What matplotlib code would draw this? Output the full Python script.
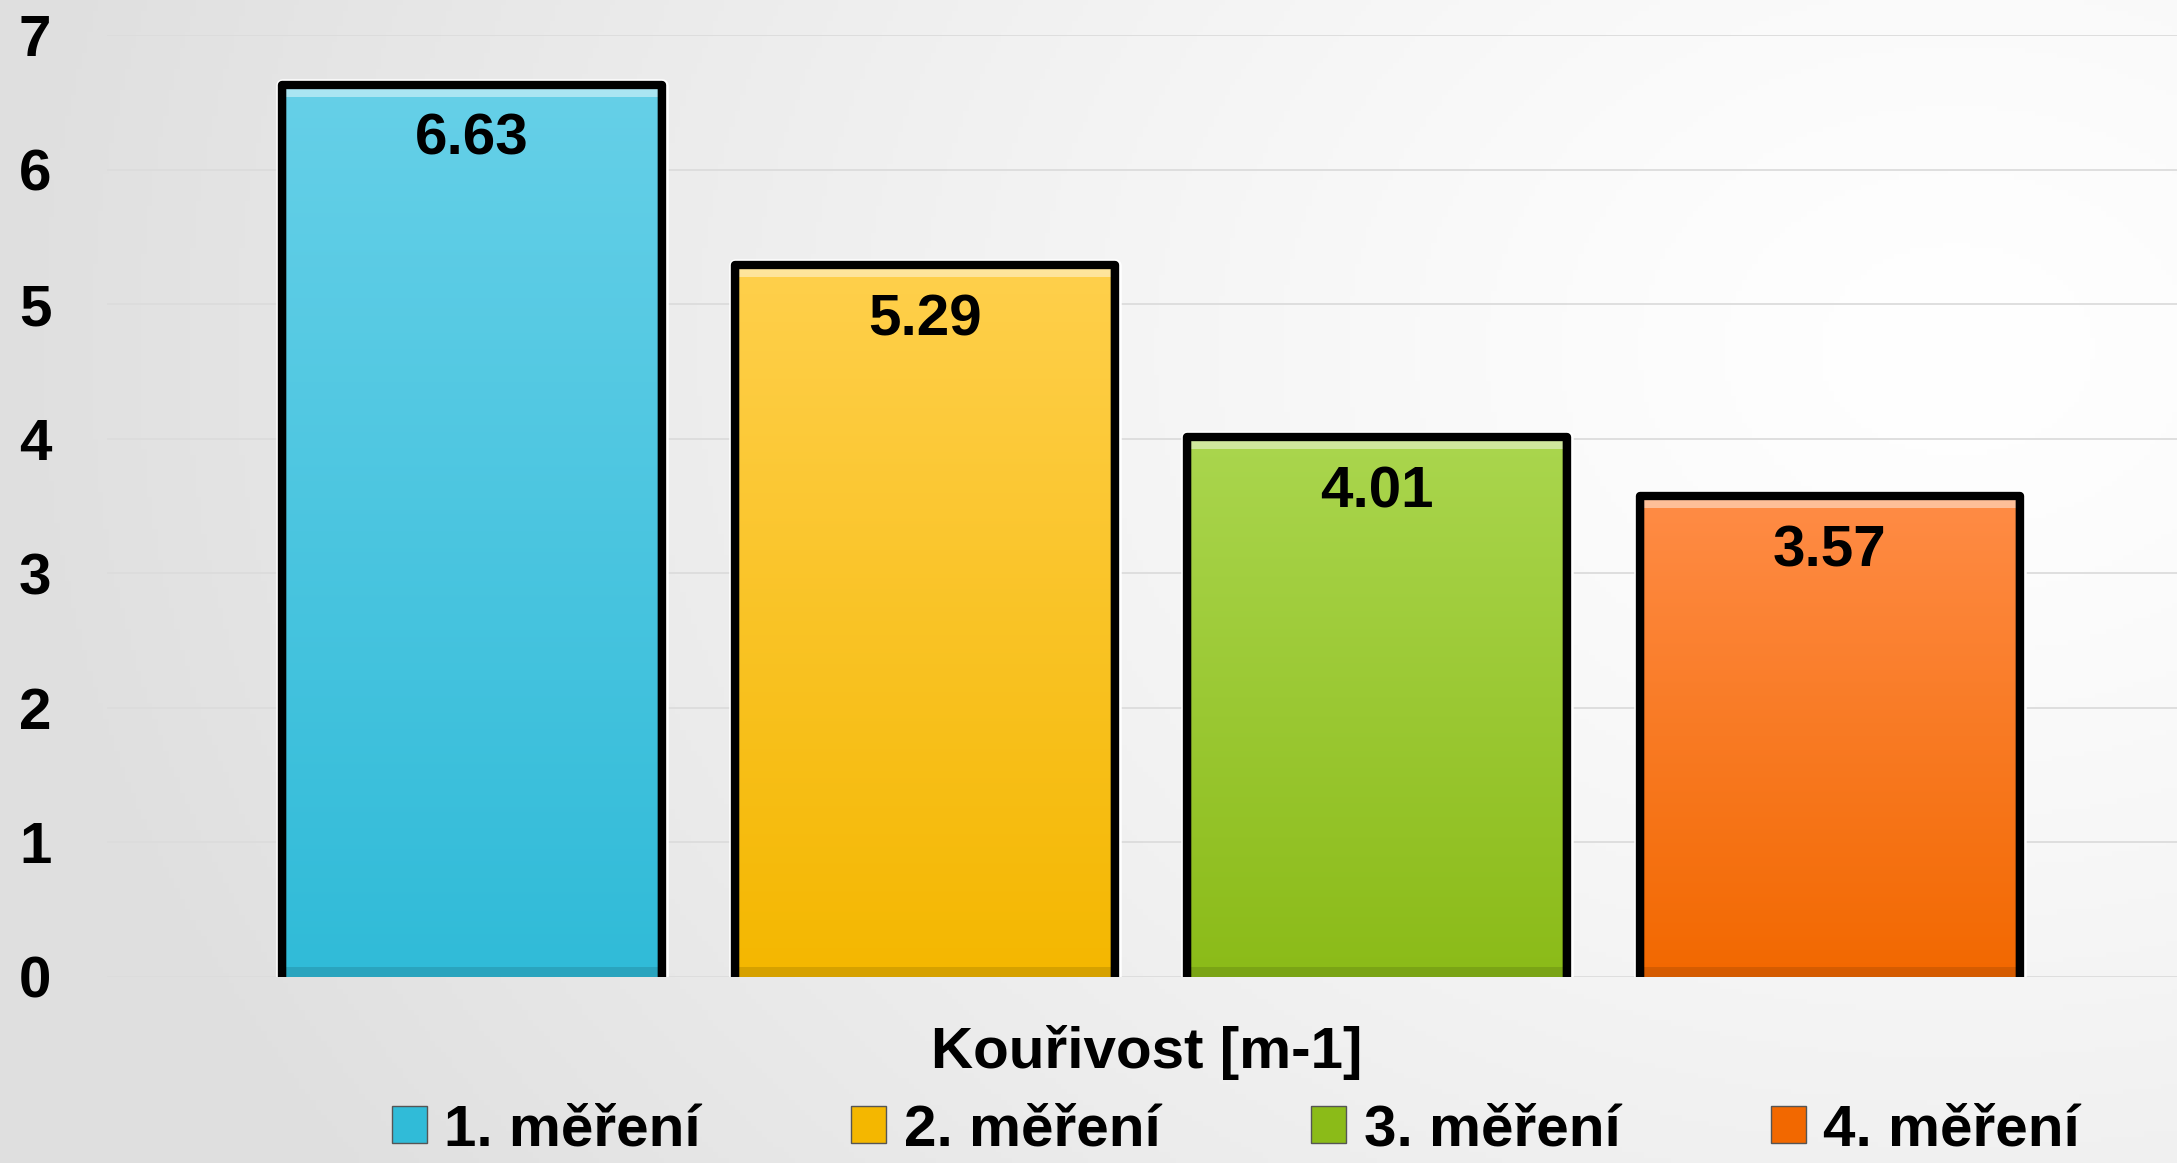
import numpy as np
import matplotlib
matplotlib.use('Agg')
import matplotlib.pyplot as plt
from matplotlib.patches import Patch

# data
labels = ['1. měření', '2. měření', '3. měření', '4. měření']
values = [6.63, 5.29, 4.01, 3.57]
value_text = ['6.63', '5.29', '4.01', '3.57']
top_colors = ['#66d0e8', '#ffd04c', '#aad64e', '#ff8c46']
bottom_colors = ['#30bbd8', '#f4b700', '#8bbb18', '#f26800']
x_title = 'Kouřivost [m-1]'
yticks = [0, 1, 2, 3, 4, 5, 6, 7]

plt.rcParams['font.family'] = ['Liberation Sans', 'DejaVu Sans']
plt.rcParams['font.weight'] = 'bold'
FS = 42

W, H = 2177, 1163
fig = plt.figure(figsize=(W / 100, H / 100), dpi=100)

#%% background gradient
bg = fig.add_axes([0, 0, 1, 1], zorder=-10)
gx, gy = np.meshgrid(np.linspace(0, W, 400), np.linspace(0, H, 220))
d = np.hypot(gx - 0.9 * W, (gy - 0.3 * H) * 1.3) / (0.9 * W)
shade = 1 - 0.125 * np.clip(d, 0, 1) ** 1.3
bg.imshow(np.dstack([shade] * 3), extent=(0, 1, 0, 1), aspect='auto', origin='upper')
bg.axis('off')

#%% main axes
ax = fig.add_axes([107 / W, (H - 976.7) / H, 1 - 107 / W, 941.7 / H])
ax.patch.set_alpha(0)
ax.set_xlim(-0.807, 3.767)
ax.set_ylim(0, 7)
for s in ax.spines.values():
    s.set_visible(False)
ax.set_yticks(yticks)
ax.set_yticklabels([str(t) for t in yticks], fontsize=FS, fontweight='bold')
ax.tick_params(axis='y', length=0, pad=40)
ax.set_xticks([])
ax.yaxis.grid(True, color='#dcdcdc', linewidth=1.3)
ax.set_axisbelow(True)


def hex2rgb(c):
    c = c.lstrip('#')
    return np.array([int(c[i:i + 2], 16) for i in (0, 2, 4)]) / 255.0


bw = 0.84
px_per_unit = 941.7 / 7
for i, (v, ct, cb) in enumerate(zip(values, top_colors, bottom_colors)):
    hpx = int(v * px_per_unit)
    wpx = 380
    t = np.linspace(0, 1, hpx)[:, None, None]
    img = (1 - t) * hex2rgb(ct) + t * hex2rgb(cb)
    img = np.repeat(img, wpx, axis=1)
    # bevel: light top, darker sides and bottom
    img[:12] = img[:12] * 0.55 + 0.45
    img[:3] = img[:3] * 0.6 + 0.4 * np.array([0.8, 1, 1])
    img[-10:] *= 0.88
    img[:, :5] *= 0.85
    img[:, -6:] *= 0.8
    img = np.clip(img, 0, 1)
    x0, x1 = i - bw / 2, i + bw / 2
    ax.imshow(img, extent=(x0, x1, 0, v), aspect='auto', origin='upper', zorder=2)
    ax.plot([x0, x0, x1, x1], [0, v, v, 0], color='white', lw=9, zorder=1.5,
            solid_joinstyle='round', solid_capstyle='butt')
    ax.plot([x0, x0, x1, x1], [0, v, v, 0], color='black', lw=6, zorder=3,
            solid_joinstyle='round', solid_capstyle='butt')
    ax.text(i, v - 0.41, value_text[i], ha='center', va='center',
            fontsize=FS, fontweight='bold', zorder=4)

ax.set_xlabel(x_title, fontsize=FS, fontweight='bold')
ax.xaxis.set_label_coords((1147 - 107) / (W - 107), -(1053 - 976.7) / 941.7)
ax.xaxis.label.set_va('center')

handles = [Patch(facecolor=c, edgecolor='#555555', linewidth=1) for c in bottom_colors]
fig.legend(handles, labels, loc='center', bbox_to_anchor=(1236 / W, 1 - 1130 / H),
           ncol=4, frameon=False, handlelength=0.6, handleheight=0.6,
           handletextpad=0.3, columnspacing=2.58, borderpad=0,
           prop={'weight': 'bold', 'size': FS})

fig.savefig('out.png', dpi=100)
